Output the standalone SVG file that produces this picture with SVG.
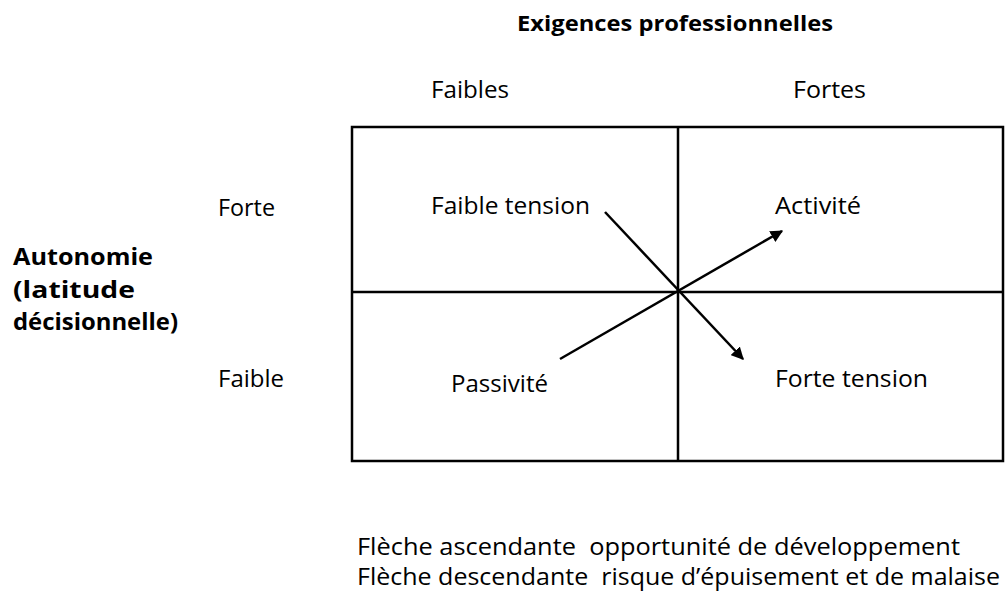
<svg xmlns="http://www.w3.org/2000/svg" width="1005" height="597" viewBox="0 0 1005 597">
<style>
text{font-family:"Open Sans","Noto Sans","Liberation Sans",sans-serif;font-size:23px;fill:#000}
.b{font-weight:bold}
.t{font-size:22px}
.ln{stroke:#000;stroke-width:2.5;fill:none}
</style>
<defs>
<marker id="ah" viewBox="0 0 10 10" refX="9" refY="5" markerWidth="5" markerHeight="5" orient="auto" markerUnits="strokeWidth">
<path d="M0,0 L10,5 L0,10 z" fill="#000"/>
</marker>
</defs>
<rect width="1005" height="597" fill="#fff"/>
<g id="titles">
<text class="b t" x="517" y="31" textLength="316" lengthAdjust="spacingAndGlyphs" xml:space="preserve">Exigences professionnelles</text>
<text x="431" y="98" textLength="78" lengthAdjust="spacingAndGlyphs">Faibles</text>
<text x="793" y="98" textLength="73" lengthAdjust="spacingAndGlyphs">Fortes</text>
<text x="218" y="216" textLength="57" lengthAdjust="spacingAndGlyphs">Forte</text>
<text x="218" y="387" textLength="66" lengthAdjust="spacingAndGlyphs">Faible</text>
<text class="b" x="13" y="265" textLength="140" lengthAdjust="spacingAndGlyphs">Autonomie</text>
<text class="b" x="13" y="298" textLength="122" lengthAdjust="spacingAndGlyphs">(latitude</text>
<text class="b" x="13" y="330" textLength="165" lengthAdjust="spacingAndGlyphs">décisionnelle)</text>
</g>
<g id="grid">
<rect class="ln" x="352" y="127" width="651" height="334"/>
<line class="ln" x1="678" y1="127" x2="678" y2="461"/>
<line class="ln" x1="352" y1="292" x2="1003" y2="292"/>
</g>
<g id="q-faible-tension"><text x="431" y="214" textLength="159" lengthAdjust="spacingAndGlyphs" xml:space="preserve">Faible tension</text></g>
<g id="q-activite"><text x="775" y="214" textLength="86" lengthAdjust="spacingAndGlyphs">Activité</text></g>
<g id="q-passivite"><text x="451" y="392" textLength="97" lengthAdjust="spacingAndGlyphs">Passivité</text></g>
<g id="q-forte-tension"><text x="775" y="387" textLength="153" lengthAdjust="spacingAndGlyphs" xml:space="preserve">Forte tension</text></g>
<g id="connectors">
<line class="ln" x1="605" y1="212" x2="743" y2="359" marker-end="url(#ah)"/>
<line class="ln" x1="560" y1="359" x2="782" y2="231" marker-end="url(#ah)"/>
</g>
<g id="legend">
<text x="357" y="555" textLength="603" lengthAdjust="spacingAndGlyphs" xml:space="preserve">Flèche ascendante  opportunité de développement</text>
<text x="357" y="585" textLength="643" lengthAdjust="spacingAndGlyphs" xml:space="preserve">Flèche descendante  risque d’épuisement et de malaise</text>
</g>
</svg>
